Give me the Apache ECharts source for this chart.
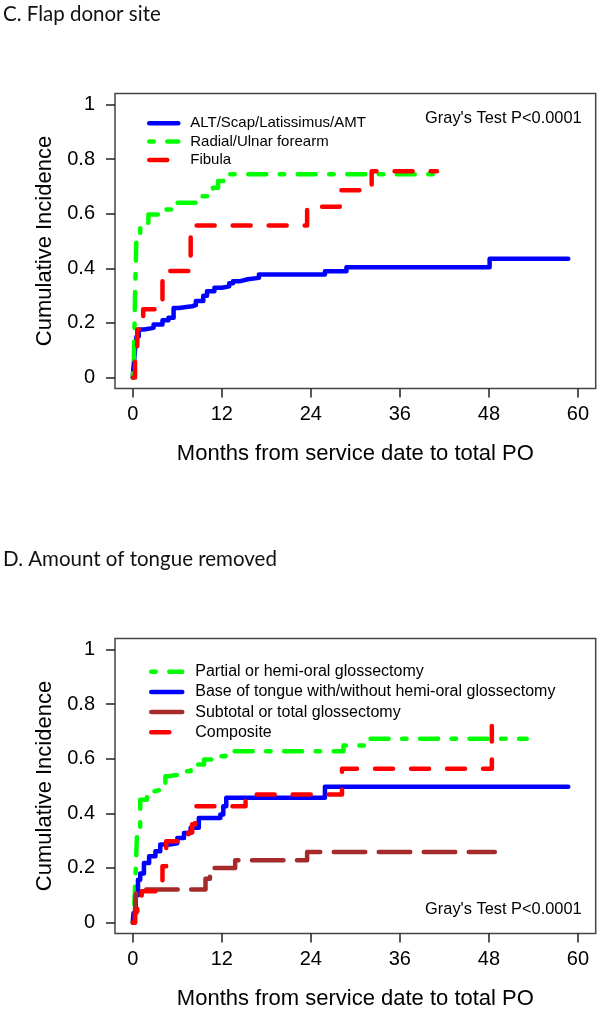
<!DOCTYPE html>
<html><head><meta charset="utf-8">
<script src="https://cdn.jsdelivr.net/npm/echarts@6/dist/echarts.min.js"></script>
<style>html,body{margin:0;padding:0;background:#fff}#c{width:600px;height:1014px}</style>
</head><body><div id="c"></div>
<script>
// ---- tick labels ----
const xTicks = [0, 12, 24, 36, 48, 60];
const yTicks = [0, 0.2, 0.4, 0.6, 0.8, 1];

// ---- panel C: flap donor site (month, cumulative incidence) ----
const altScap = [[0,0],[0.05,0.023],[0.3,0.1],[0.5,0.15],[0.8,0.176],[1.5,0.182],[2.8,0.194],[4,0.21],[4.8,0.219],[5.5,0.255],[6.2,0.261],[8.0,0.265],[8.5,0.28],[9.5,0.30],[10,0.316],[11,0.329],[12,0.334],[13,0.345],[13.5,0.353],[14.5,0.36],[15.5,0.365],[17,0.377],[25.9,0.389],[28.8,0.404],[48.1,0.435],[58.7,0.435]];
const radialUlnar = [[0,0],[0.15,0.07],[0.3,0.3],[0.5,0.53],[1.0,0.567],[2.1,0.597],[3.5,0.615],[5.7,0.64],[8.5,0.664],[10.8,0.695],[11.5,0.72],[12.5,0.744],[40.5,0.744]];
const fibula = [[0,0],[0.3,0.06],[0.6,0.176],[1.4,0.25],[4.0,0.39],[7.8,0.557],[23.5,0.625],[27.9,0.686],[32.2,0.755],[41,0.755]];

// ---- panel D: amount of tongue removed ----
const partialHemi = [[0,0],[0.2,0.06],[0.4,0.2],[0.6,0.35],[1.0,0.45],[1.9,0.48],[2.8,0.487],[4.0,0.505],[4.4,0.536],[4.8,0.542],[6.4,0.554],[7.8,0.567],[8.7,0.579],[9.6,0.597],[11.4,0.609],[12.5,0.627],[28.4,0.648],[32,0.673],[53.1,0.673]];
const baseTongue = [[0,0],[0.1,0.035],[0.4,0.1],[0.7,0.157],[1.0,0.18],[1.5,0.218],[2.2,0.243],[3.05,0.261],[3.7,0.286],[5.0,0.29],[6.0,0.31],[6.9,0.328],[7.8,0.347],[8.9,0.383],[11.8,0.396],[12.2,0.426],[12.6,0.457],[25.9,0.497],[58.7,0.497]];
const subtotalTotal = [[0,0],[0.3,0.05],[0.5,0.121],[9.8,0.16],[10.4,0.2],[13.8,0.228],[23.5,0.258],[48.8,0.258]];
const composite = [[0,0],[0.3,0.04],[0.6,0.084],[1.2,0.115],[4.0,0.206],[4.5,0.298],[7.5,0.33],[8.0,0.36],[8.4,0.426],[15.2,0.469],[28.2,0.563],[48.4,0.72]];

const namesC = ['ALT/Scap/Latissimus/AMT', 'Radial/Ulnar forearm', 'Fibula'];
const namesD = ['Partial or hemi-oral glossectomy', 'Base of tongue with/without hemi-oral glossectomy', 'Subtotal or total glossectomy', 'Composite'];

const FONT = 'Liberation Sans, Arial, sans-serif';
const LW = 4.5;
const SOLID = 'solid';
const DASHED = [18, 18];
const DOTDASH = [4.5, 13.5, 18, 13.5];
const LONGDASH = [31.5, 13.5];

function mkSeries(name, data, idx, color, dash) {
  return {
    name, type: 'line', data, xAxisIndex: idx, yAxisIndex: idx,
    step: 'end', symbol: 'none', showSymbol: false, animation: false,
    lineStyle: { color, width: LW, type: dash, cap: 'round', join: 'round' },
    itemStyle: { color }
  };
}

function mkX(idx) {
  return {
    gridIndex: idx, type: 'value', min: -2.4, max: 62.4,
    name: 'Months from service date to total PO', nameLocation: 'middle', nameGap: 54,
    nameTextStyle: { fontFamily: FONT, fontSize: 22, color: '#000' },
    axisLine: { show: false, onZero: false }, splitLine: { show: false },
    axisTick: { show: true, inside: false, length: 9, customValues: xTicks, lineStyle: { color: '#222', width: 1.5 } },
    axisLabel: { customValues: xTicks, margin: 16, fontFamily: FONT, fontSize: 20, color: '#000', formatter: v => String(v) }
  };
}
function mkY(idx) {
  return {
    gridIndex: idx, type: 'value', min: -0.04, max: 1.04,
    name: 'Cumulative Incidence', nameLocation: 'middle', nameGap: 57,
    nameTextStyle: { fontFamily: FONT, fontSize: 22, color: '#000' },
    axisLine: { show: false, onZero: false }, splitLine: { show: false },
    axisTick: { show: true, inside: false, length: 9, customValues: yTicks, lineStyle: { color: '#222', width: 1.5 } },
    axisLabel: { customValues: yTicks, margin: 20, fontFamily: FONT, fontSize: 20, color: '#000', formatter: v => String(+v.toFixed(2)) }
  };
}

const chart = echarts.init(document.getElementById('c'), null, { renderer: 'canvas' });
chart.setOption({
  animation: false,
  backgroundColor: '#fff',
  title: [
    { text: 'C. Flap donor site', left: 3, top: 4, padding: 0, textStyle: { fontFamily: 'Lato, sans-serif', fontSize: 20.5, fontWeight: 'normal', color: '#111' } },
    { text: "Gray's Test P<0.0001", right: 18.3, top: 110, padding: 0, textStyle: { fontFamily: FONT, fontSize: 16.4, fontWeight: 'normal', color: '#000' } },
    { text: 'D. Amount of tongue removed', left: 3, top: 549, padding: 0, textStyle: { fontFamily: 'Lato, sans-serif', fontSize: 20.5, fontWeight: 'normal', color: '#111' } },
    { text: "Gray's Test P<0.0001", right: 18.3, top: 901, padding: 0, textStyle: { fontFamily: FONT, fontSize: 16.4, fontWeight: 'normal', color: '#000' } }
  ],
  legend: [
    { data: namesC, orient: 'vertical', left: 147, top: 115.8, padding: 0, itemWidth: 29, itemHeight: 15, itemGap: 3.3,
      lineStyle: { width: LW }, itemStyle: { opacity: 0 },
      textStyle: { fontFamily: FONT, fontSize: 15, color: '#000', padding: [0, 0, 0, 7] } },
    { data: namesD, orient: 'vertical', left: 149, top: 663.7, padding: 0, itemWidth: 31, itemHeight: 16, itemGap: 4.2,
      lineStyle: { width: LW }, itemStyle: { opacity: 0 },
      textStyle: { fontFamily: FONT, fontSize: 16, color: '#000', padding: [0, 0, 0, 8] } }
  ],
  grid: [
    { left: 115, right: 4.3, top: 93.5, height: 295, show: true, borderColor: '#444', borderWidth: 1.5, backgroundColor: 'transparent' },
    { left: 115, right: 4.3, top: 638.5, height: 295, show: true, borderColor: '#444', borderWidth: 1.5, backgroundColor: 'transparent' }
  ],
  xAxis: [mkX(0), mkX(1)],
  yAxis: [mkY(0), mkY(1)],
  series: [
    mkSeries(namesC[0], altScap, 0, '#0000FF', SOLID),
    mkSeries(namesC[1], radialUlnar, 0, '#00FF00', DOTDASH),
    mkSeries(namesC[2], fibula, 0, '#FF0000', DASHED),
    mkSeries(namesD[0], partialHemi, 1, '#00FF00', DOTDASH),
    mkSeries(namesD[1], baseTongue, 1, '#0000FF', SOLID),
    mkSeries(namesD[2], subtotalTotal, 1, '#A52A2A', LONGDASH),
    mkSeries(namesD[3], composite, 1, '#FF0000', DASHED)
  ]
});
</script></body></html>
